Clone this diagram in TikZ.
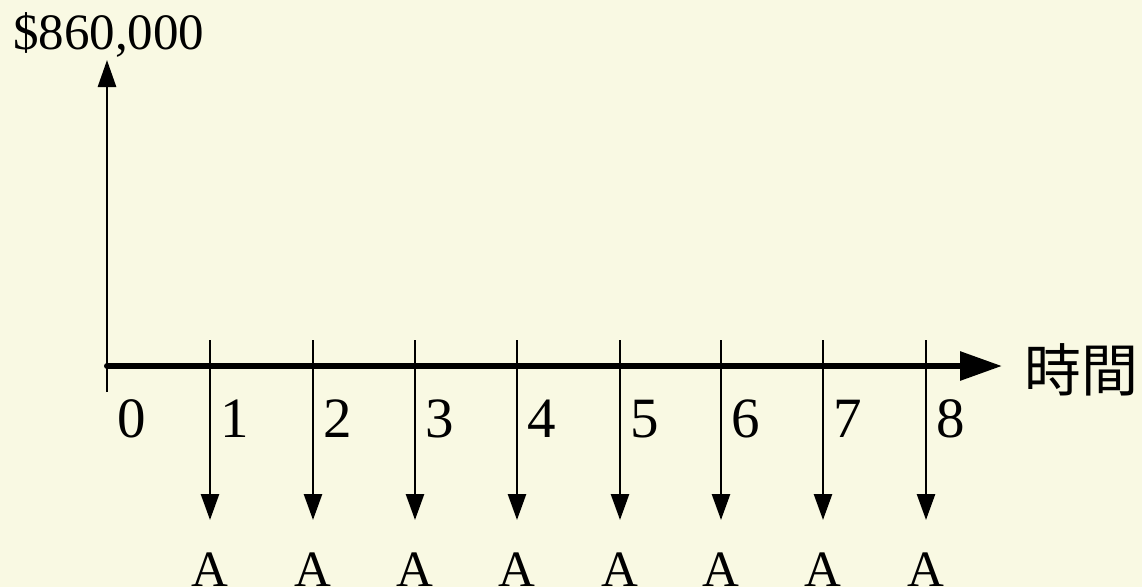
\documentclass[tikz,border=0pt]{standalone}
\usepackage{fontspec}
\setmainfont{Liberation Serif}
\newfontfamily\cjkfont{Noto Sans CJK TC}
\usetikzlibrary{arrows.meta}
\definecolor{bgcol}{RGB}{249,249,227}
\begin{document}
\begin{tikzpicture}[x=1pt,y=-1pt,
  lbl/.style={inner sep=0pt,font=\fontsize{57}{60}\selectfont},
  toplbl/.style={inner sep=0pt,font=\fontsize{51}{56}\selectfont},
  cashflow/.style={line width=2.6pt,-{Triangle[length=26pt,width=18pt]}},
  axis/.style={line width=6pt,line cap=round,-{Triangle[length=42pt,width=28pt]}},
  yaxis/.style={line width=2.8pt,-{Triangle[length=27pt,width=18pt]}}]
\fill[bgcol] (0,0) rectangle (1142,587);
\useasboundingbox (0,0) rectangle (1142,587);
% axes
\coordinate (ybot) at (107,392);
\coordinate (ytop) at (107,60);
\coordinate (xl) at (107,366);
\coordinate (xr) at (1002,366);
\draw[yaxis] (ybot) -- (ytop);
\node[toplbl,anchor=base west] (money) at (13,49) {\$860,000};
\node[lbl,anchor=base west] (l0) at (117,437) {0};
% ticks and cash flows
\foreach \i/\x in {1/210,2/313,3/415,4/517,5/620,6/721,7/823,8/926}{
  \coordinate (t\i) at (\x,340);
  \coordinate (b\i) at (\x,520);
  \draw[cashflow] (t\i) -- (b\i);
  \node[lbl,anchor=base west] (l\i) at (\x+10,437) {\i};
  \node[toplbl,anchor=base] (a\i) at (\x,586) {A};
}
\draw[axis] (xl) -- (xr);
\node[inner sep=0pt,anchor=west,font=\cjkfont\fontsize{57}{60}\selectfont] (time) at (1024,370) {時間};
\end{tikzpicture}
\end{document}
